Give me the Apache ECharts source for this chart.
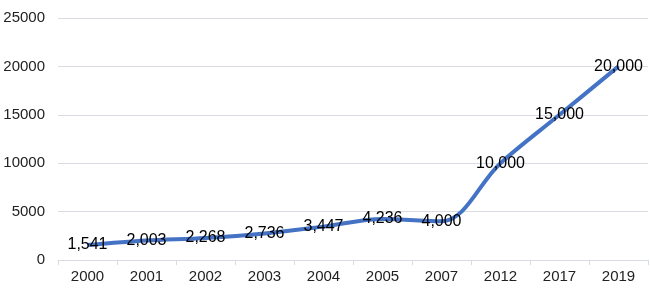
<!DOCTYPE html>
<html>
<head>
<meta charset="utf-8">
<script src="https://cdn.jsdelivr.net/npm/echarts@6/dist/echarts.min.js"></script>
<style>
  html, body { margin: 0; padding: 0; background: #fff; }
  #chart { width: 650px; height: 300px; }
</style>
</head>
<body>
<div id="chart"></div>
<script>
// x轴年份
var years = ['2000', '2001', '2002', '2003', '2004', '2005', '2007', '2012', '2017', '2019'];
// 数值
var values = [1541, 2003, 2268, 2736, 3447, 4236, 4000, 10000, 15000, 20000];

var font = 'Liberation Sans, Arial, sans-serif';

var chart = echarts.init(document.getElementById('chart'));
chart.setOption({
    animation: false,
    grid: { left: 58, right: 2, top: 18, bottom: 40 },
    xAxis: {
        type: 'category',
        data: years,
        axisLine: { lineStyle: { color: '#d9dde3', width: 1 } },
        axisTick: { show: true, length: 5, lineStyle: { color: '#d9dde3' } },
        axisLabel: { color: '#222', fontSize: 15, fontFamily: font, margin: 9 }
    },
    yAxis: {
        type: 'value',
        min: 0,
        max: 25000,
        interval: 5000,
        axisLine: { show: false },
        axisTick: { show: false },
        splitLine: { lineStyle: { color: '#d9dde3', width: 1 } },
        axisLabel: {
            color: '#222', fontSize: 15, fontFamily: font, margin: 13,
            formatter: function (v) { return String(v); }
        }
    },
    series: [{
        type: 'line',
        data: values,
        smooth: 0.35,
        symbol: 'circle',
        symbolSize: 2,
        showSymbol: true,
        // 隐藏点，只留标签
        itemStyle: { color: 'rgba(68,114,196,0)', borderWidth: 0 },
        lineStyle: { color: '#4472c4', width: 4 },
        label: {
            show: true,
            position: 'inside',
            color: '#000',
            fontSize: 16,
            fontFamily: font,
            formatter: function (p) {
                return p.value.toLocaleString('en-US');
            }
        }
    }]
});
</script>
</body>
</html>
